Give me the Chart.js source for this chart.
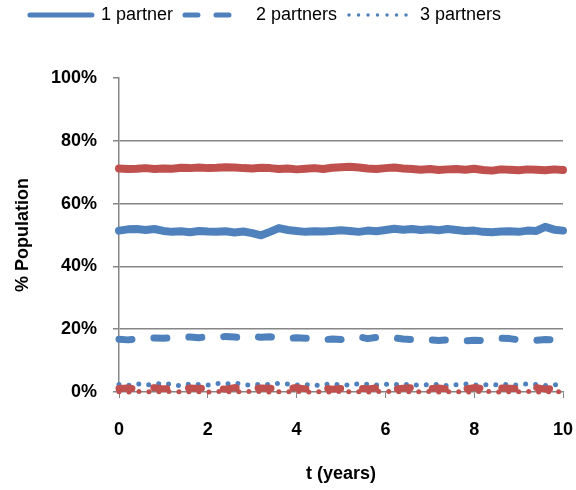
<!DOCTYPE html>
<html>
<head>
<meta charset="utf-8">
<script src="https://cdn.jsdelivr.net/npm/chart.js@4/dist/chart.umd.min.js"></script>
<style>
body{margin:0;background:#fff;}
#wrap{width:576px;height:490px;}
</style>
</head>
<body>
<div id="wrap"><canvas id="c" width="576" height="490"></canvas></div>
<script>
// time axis (years)
const T = [0,0.2,0.4,0.6,0.8,1,1.2,1.4,1.6,1.8,
  2,2.2,2.4,2.6,2.8,3,3.2,3.4,3.6,3.8,
  4,4.2,4.4,4.6,4.8,5,5.2,5.4,5.6,5.8,
  6,6.2,6.4,6.6,6.8,7,7.2,7.4,7.6,7.8,
  8,8.2,8.4,8.6,8.8,9,9.2,9.4,9.6,9.8,10];

// blue population (%)
const blue1 = [51.4,51.8,51.9,51.6,51.9,51.3,51.0,51.2,50.9,51.3,
  51.1,51.0,51.2,50.8,51.1,50.6,49.9,51.0,52.2,51.6,
  51.3,51.0,51.2,51.1,51.3,51.5,51.3,51.0,51.4,51.2,
  51.6,52.0,51.7,51.9,51.6,51.8,51.5,51.9,51.6,51.3,
  51.4,51.0,50.9,51.1,51.2,51.0,51.4,51.3,52.6,51.7,51.4];
const blue2 = [16.8,16.6,16.9,17.0,17.2,17.1,17.3,17.4,17.5,17.3,
  17.6,17.4,17.7,17.5,17.3,17.8,17.4,17.6,17.2,17.0,
  17.3,17.1,16.9,16.6,16.9,16.7,17.3,17.6,17.0,17.4,
  17.1,17.2,16.9,16.7,16.9,16.6,16.4,16.6,16.5,16.3,
  16.5,16.4,16.7,17.1,17.0,16.6,16.8,16.5,16.7,16.6,16.5];
const blue3 = [2.4,2.1,2.6,2.2,2.5,2.8,2.3,2.0,2.6,2.4,
  2.2,2.7,2.5,2.9,2.4,2.1,2.6,2.3,2.8,2.5,
  2.2,2.4,2.0,2.6,2.3,2.5,2.1,2.7,2.4,2.2,
  2.5,2.3,2.6,2.1,2.4,2.2,2.5,2.0,2.3,2.6,
  2.2,2.4,2.1,2.5,2.3,2.2,2.6,2.4,2.1,2.3,2.5];

// red population (%)
const red1 = [71.2,71.0,71.1,71.3,71.0,71.2,71.1,71.4,71.3,71.5,
  71.3,71.4,71.6,71.5,71.3,71.2,71.4,71.3,71.0,71.2,
  70.9,71.1,71.3,71.0,71.4,71.6,71.7,71.5,71.2,71.0,
  71.3,71.5,71.2,71.0,70.8,71.0,70.7,70.9,71.0,70.8,
  71.1,70.7,70.5,70.9,70.8,70.6,70.9,70.8,70.6,70.9,70.7];
const red2 = [1.1,1.3,0.9,1.2,1.4,1.0,1.2,0.8,1.3,1.1,
  1.5,1.2,0.9,1.4,1.1,1.0,1.3,1.2,0.9,1.1,
  1.4,1.0,1.2,1.3,0.9,1.1,1.5,1.2,1.0,1.3,
  1.1,0.9,1.2,1.4,1.0,1.1,1.3,0.9,1.2,1.0,
  1.4,1.1,0.9,1.3,1.2,1.0,1.1,1.4,0.9,1.2,1.1];
const red3 = [0.1,0.0,0.2,0.1,0.0,0.1,0.2,0.0,0.1,0.1,
  0.0,0.2,0.1,0.0,0.1,0.2,0.1,0.0,0.1,0.1,
  0.2,0.0,0.1,0.1,0.0,0.2,0.1,0.1,0.0,0.1,
  0.2,0.1,0.0,0.1,0.1,0.2,0.0,0.1,0.1,0.0,
  0.1,0.2,0.1,0.0,0.1,0.1,0.2,0.0,0.1,0.1,0.0];

const labels = ["1 partner","2 partners","3 partners"];
const BLUE = "#4F81BD", RED = "#C0504D", AXIS = "#868686";
const FONT = "'Liberation Sans', Arial, sans-serif";

function pts(arr){return arr.map((v,i)=>({x:T[i],y:v}));}

function ds(label,arr,color,kind,order){
  const d = {label,data:pts(arr),borderColor:color,backgroundColor:color,pointRadius:0,
    tension:0,fill:false,order,clip:10,borderCapStyle:"round",borderJoinStyle:"round"};
  if(kind==="solid"){d.borderWidth=8;}
  else if(kind==="dash"){d.borderWidth=7;d.borderDash=[13,22];}
  else {d.borderWidth=5;d.borderDash=[0,10];}
  return d;
}

const datasets = [
  ds(labels[0],blue1,BLUE,"solid",1),
  ds(labels[1],blue2,BLUE,"dash",1),
  ds(labels[2],blue3,BLUE,"dot",1),
  ds("red "+labels[0],red1,RED,"solid",0),
  ds("red "+labels[1],red2,RED,"dash",0),
  ds("red "+labels[2],red3,RED,"dot",0)
];

// extra room under the legend, and nudge it up/left like the original
const legendSpace = {
  id:"legendSpace",
  beforeLayout(chart){
    const lg = chart.legend;
    if(lg && !lg._patched){
      const fit = lg.fit.bind(lg);
      lg.fit = function(){fit(); this.height += 38;};
      lg._patched = true;
    }
  },
  afterLayout(chart){
    const lg = chart.legend;
    lg.top -= 6; lg.bottom -= 6;
    lg.left -= 16; lg.right -= 16;
  }
};

new Chart(document.getElementById("c"),{
  type:"line",
  data:{datasets},
  plugins:[legendSpace],
  options:{
    responsive:false,animation:false,
    layout:{padding:{left:0,right:13,top:0,bottom:0}},
    plugins:{
      tooltip:{enabled:false},
      legend:{
        position:"top",
        labels:{
          font:{family:FONT,size:18},color:"#000",
          usePointStyle:true,pointStyle:"line",pointStyleWidth:62,padding:12,
          generateLabels(chart){
            const items = Chart.defaults.plugins.legend.labels.generateLabels(chart).filter(it=>it.datasetIndex<3);
            items.forEach(it=>{
              it.pointStyle="line";
              it.lineCap="round";
              it.strokeStyle=BLUE;
              if(it.datasetIndex===0){it.lineWidth=5;it.lineDash=[];}
              if(it.datasetIndex===1){it.lineWidth=5;it.lineDash=[13,18];}
              if(it.datasetIndex===2){it.lineWidth=3.5;it.lineDash=[0,9.5];}
            });
            return items;
          }
        }
      }
    },
    scales:{
      x:{
        type:"linear",min:0,max:10,
        afterFit(s){s.height=98;s.paddingLeft=0;s.paddingRight=0;},
        ticks:{stepSize:2,font:{family:FONT,size:18,weight:"bold"},color:"#000",padding:21,maxRotation:0},
        grid:{drawOnChartArea:false,drawTicks:true,tickLength:6,tickColor:AXIS,color:AXIS},
        border:{color:AXIS,width:1.5},
        title:{display:true,text:"t (years)",font:{family:FONT,size:18,weight:"bold"},color:"#000",padding:{top:0,bottom:5}}
      },
      y:{
        min:0,max:100,
        afterFit(s){s.width=119;},
        ticks:{stepSize:20,callback:v=>v+"%",font:{family:FONT,size:18,weight:"bold"},color:"#000",padding:16},
        grid:{tickLength:6,tickColor:AXIS,lineWidth:1.5,
          color:ctx=>(ctx.tick && (ctx.tick.value===100||ctx.tick.value===0))?"rgba(0,0,0,0)":AXIS},
        border:{color:AXIS,width:1.5},
        title:{display:true,text:"% Population",font:{family:FONT,size:18,weight:"bold"},color:"#000",padding:{top:12,bottom:0}}
      }
    }
  }
});
</script>
</body>
</html>
